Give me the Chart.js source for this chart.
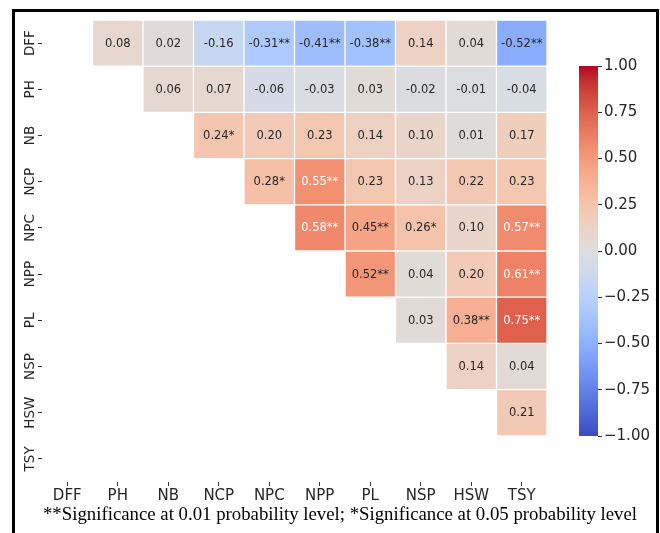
<!DOCTYPE html>
<html lang="en">
<head>
<meta charset="UTF-8">
<title>Correlation heatmap</title>
<script src="https://cdn.jsdelivr.net/npm/chart.js"></script>
<style>
  body { margin: 0; background: #fff; }
  .frame { position: absolute; left: 12px; top: 9px; width: 641px; height: 600px; border: 3px solid #000; }
  #heat { position: absolute; left: 0; top: 0; }
  #cbar { position: absolute; left: 560px; top: 0; }
  .note { position: absolute; left: 0; top: 504px; width: 680px; text-align: center;
          font-family: "Liberation Serif", serif; font-size: 18.8px; line-height: 20px; color: #000; }
</style>
</head>
<body>
<div class="frame"></div>
<canvas id="heat" width="570" height="510"></canvas>
<canvas id="cbar" width="100" height="533"></canvas>
<div class="note">**Significance at 0.01 probability level; *Significance at 0.05 probability level</div>

<script>
// variables (same order on both axes)
const categories = ['DFF', 'PH', 'NB', 'NCP', 'NPC', 'NPP', 'PL', 'NSP', 'HSW', 'TSY'];

// correlation rows, upper triangle only (null = masked)
const rDFF = [null, 0.08, 0.02, -0.16, -0.31, -0.41, -0.38, 0.14, 0.04, -0.52];
const rPH  = [null, null, 0.06, 0.07, -0.06, -0.03, 0.03, -0.02, -0.01, -0.04];
const rNB  = [null, null, null, 0.24, 0.20, 0.23, 0.14, 0.10, 0.01, 0.17];
const rNCP = [null, null, null, null, 0.28, 0.55, 0.23, 0.13, 0.22, 0.23];
const rNPC = [null, null, null, null, null, 0.58, 0.45, 0.26, 0.10, 0.57];
const rNPP = [null, null, null, null, null, null, 0.52, 0.04, 0.20, 0.61];
const rPL  = [null, null, null, null, null, null, null, 0.03, 0.38, 0.75];
const rNSP = [null, null, null, null, null, null, null, null, 0.14, 0.04];
const rHSW = [null, null, null, null, null, null, null, null, null, 0.21];
const rTSY = [null, null, null, null, null, null, null, null, null, null];
const corr = [rDFF, rPH, rNB, rNCP, rNPC, rNPP, rPL, rNSP, rHSW, rTSY];

// significance marks
const sDFF = ['', '', '', '', '**', '**', '**', '', '', '**'];
const sPH  = ['', '', '', '', '', '', '', '', '', ''];
const sNB  = ['', '', '', '*', '', '', '', '', '', ''];
const sNCP = ['', '', '', '', '*', '**', '', '', '', ''];
const sNPC = ['', '', '', '', '', '**', '**', '*', '', '**'];
const sNPP = ['', '', '', '', '', '', '**', '', '', '**'];
const sPL  = ['', '', '', '', '', '', '', '', '**', '**'];
const sNSP = ['', '', '', '', '', '', '', '', '', ''];
const sHSW = ['', '', '', '', '', '', '', '', '', ''];
const sTSY = ['', '', '', '', '', '', '', '', '', ''];
const sig = [sDFF, sPH, sNB, sNCP, sNPC, sNPP, sPL, sNSP, sHSW, sTSY];

const cbarMin = -1, cbarMax = 1, cbarStep = 0.25;

// matplotlib "coolwarm" lookup (33 steps)
const coolwarm = [
  [59,76,192],[68,90,204],[77,104,215],[87,117,225],[98,130,234],[108,142,241],[119,154,247],
  [130,165,251],[141,176,254],[152,185,255],[163,194,255],[174,201,253],[184,208,249],[194,213,244],
  [204,217,238],[213,219,230],[221,221,221],[229,216,209],[236,211,197],[241,204,185],[245,196,173],
  [247,187,160],[247,177,148],[247,166,135],[244,154,123],[241,141,111],[236,127,99],[229,112,88],
  [222,96,77],[213,80,66],[203,62,56],[192,40,47],[180,4,38]
];

function cmapRGB(v) {
  let t = (v - cbarMin) / (cbarMax - cbarMin);
  t = Math.max(0, Math.min(1, t)) * (coolwarm.length - 1);
  const i = Math.min(Math.floor(t), coolwarm.length - 2);
  const f = t - i;
  return coolwarm[i].map((c, k) => Math.round(c + (coolwarm[i + 1][k] - c) * f));
}
function cmap(v) {
  const c = cmapRGB(v);
  return 'rgb(' + c.join(',') + ')';
}
// seaborn-like text colour choice
function textColor(v) {
  const lin = cmapRGB(v).map(c => {
    c = c / 255;
    return c <= 0.03928 ? c / 12.92 : Math.pow((c + 0.055) / 1.055, 2.4);
  });
  const lum = 0.2126 * lin[0] + 0.7152 * lin[1] + 0.0722 * lin[2];
  return lum > 0.408 ? '#262626' : '#ffffff';
}

const cellText = {
  id: 'cellText',
  afterDatasetsDraw(chart) {
    const ctx = chart.ctx;
    ctx.save();
    ctx.font = '11.5px "DejaVu Sans"';
    ctx.textAlign = 'center';
    ctx.textBaseline = 'middle';
    chart.data.datasets.forEach((ds, i) => {
      chart.getDatasetMeta(i).data.forEach((bar, j) => {
        const v = corr[i][j];
        if (v == null) return;
        ctx.fillStyle = textColor(v);
        ctx.fillText(v.toFixed(2) + sig[i][j], bar.x, (bar.y + bar.base) / 2 + 0.5);
      });
    });
    ctx.restore();
  }
};

// one floating-bar dataset per row
const datasets = corr.map((row, i) => ({
  label: categories[i],
  data: row.map(v => (v == null ? null : [i, i + 1])),
  backgroundColor: row.map(v => (v == null ? 'rgba(0,0,0,0)' : cmap(v))),
  borderColor: '#ffffff',
  borderWidth: 1,
  borderSkipped: false,
  grouped: false,
  barPercentage: 1,
  categoryPercentage: 1
}));

new Chart(document.getElementById('heat'), {
  type: 'bar',
  data: { labels: categories, datasets: datasets },
  options: {
    responsive: false,
    animation: false,
    layout: { padding: { top: 20, right: 23, left: 0, bottom: 0 } },
    plugins: { legend: { display: false }, tooltip: { enabled: false } },
    scales: {
      x: {
        offset: true,
        grid: { offset: false, drawOnChartArea: false, tickLength: 4, color: '#333' },
        border: { display: false },
        ticks: { font: { family: 'DejaVu Sans', size: 15 }, color: '#262626', padding: 1, maxRotation: 0 },
        afterFit: s => { s.height = 28; }
      },
      y: {
        min: 0, max: 10, reverse: true,
        afterBuildTicks: s => { s.ticks = categories.map((c, i) => ({ value: i + 0.5 })); },
        grid: { drawOnChartArea: false, tickLength: 4, color: '#333' },
        border: { display: false },
        ticks: {
          callback: v => categories[Math.floor(v)],
          minRotation: 90, maxRotation: 90, crossAlign: 'center', padding: -9,
          font: { family: 'DejaVu Sans', size: 13.5 }, color: '#262626'
        },
        afterFit: s => { s.width = 42; }
      }
    }
  },
  plugins: [cellText]
});

// colour bar
function barGradient(chart) {
  const area = chart.chartArea;
  if (!area) return cmap(0);
  const g = chart.ctx.createLinearGradient(0, area.bottom, 0, area.top);
  coolwarm.forEach((c, i) => g.addColorStop(i / (coolwarm.length - 1), 'rgb(' + c.join(',') + ')'));
  return g;
}

new Chart(document.getElementById('cbar'), {
  type: 'bar',
  data: { labels: [''], datasets: [{
    data: [[cbarMin, cbarMax]],
    backgroundColor: ctx => barGradient(ctx.chart),
    borderWidth: 0, barPercentage: 1, categoryPercentage: 1
  }] },
  options: {
    responsive: false,
    animation: false,
    layout: { padding: { left: 19, top: 66, bottom: 97, right: 0 } },
    plugins: { legend: { display: false }, tooltip: { enabled: false } },
    scales: {
      x: { display: false },
      y: {
        position: 'right', min: cbarMin, max: cbarMax,
        grid: { drawOnChartArea: false, tickLength: 4, color: '#333' },
        border: { display: false },
        ticks: {
          stepSize: cbarStep,
          callback: v => v.toFixed(2).replace('-', '\u2212'),
          font: { family: 'DejaVu Sans', size: 15 }, color: '#262626', padding: 2
        },
        afterFit: s => { s.width = 62; }
      }
    }
  }
});
</script>
</body>
</html>
